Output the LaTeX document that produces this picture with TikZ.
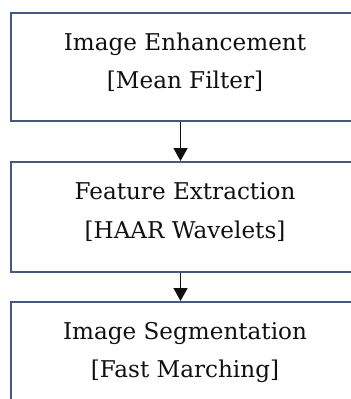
\documentclass[tikz,border=0pt]{standalone}
\usepackage{fontspec}
\setmainfont{DejaVu Serif}
\usetikzlibrary{positioning,arrows.meta}
\definecolor{frame}{HTML}{44597E}
\definecolor{ink}{HTML}{101010}
\tikzset{
  stage/.style={draw=frame, line width=2bp, minimum width=348bp, anchor=north west, inner sep=0pt},
  caption/.style={text=ink, font=\fontsize{23.2}{27}\selectfont, anchor=base},
  flow/.style={draw=ink, line width=1.6bp, -{Triangle[width=14bp,length=13bp]}}
}
\begin{document}
\begin{tikzpicture}[x=1bp,y=1bp]
  \useasboundingbox (0,0) rectangle (351,-399);
  \clip (0,0) rectangle (351,-399);

  % the three stages
  \node[stage, minimum height=108bp] (enh) at (10,-12) {};
  \node[stage, minimum height=110bp] (feat) at (10,-161) {};
  \node[stage, minimum height=110bp] (seg) at (10,-301) {};

  \node[caption] (enhA) at ([yshift=-38.6]enh.north) {Image Enhancement};
  \node[caption] (enhB) at ([yshift=-76.3]enh.north) {[Mean Filter]};
  \node[caption] (featA) at ([yshift=-38.3]feat.north) {Feature Extraction};
  \node[caption] (featB) at ([yshift=-77.3]feat.north) {[HAAR Wavelets]};
  \node[caption] (segA) at ([yshift=-38.3]seg.north) {Image Segmentation};
  \node[caption] (segB) at ([yshift=-76.7]seg.north) {[Fast Marching]};

  \draw[flow] ([xshift=-4.5]enh.south) -- ([xshift=-4.5]feat.north);
  \draw[flow] ([xshift=-4.5]feat.south) -- ([xshift=-4.5]seg.north);
\end{tikzpicture}
\end{document}
